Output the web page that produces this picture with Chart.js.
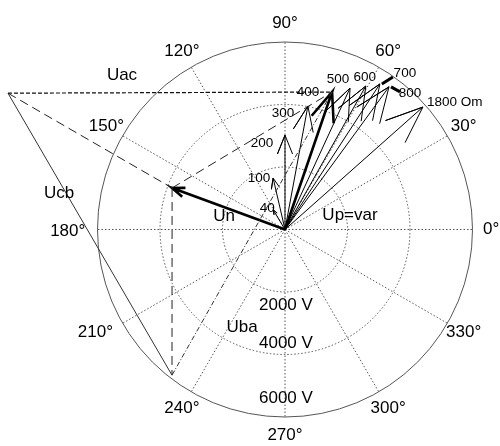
<!DOCTYPE html>
<html lang="en">
<head>
    <meta charset="UTF-8">
    <title>Up=var phasor diagram</title>
    <script src="https://cdn.jsdelivr.net/npm/chart.js"></script>
    <style>
        body { margin: 0; background: #fff; }
        canvas { display: block; }
    </style>
</head>
<body>
    <canvas id="phasor" width="500" height="446"></canvas>

    <script>
        // Up arrows (compass style), one per load resistance
        const resistances = ['40', '100', '200', '300', '400', '500', '600', '700', '800', '1800 Om'];
        const upMagnitude = [730, 1690, 3020, 4020, 4650, 4980, 5270, 5560, 5650, 5900];
        const upAngle = [121, 103, 90, 79.5, 71.1, 65.3, 60.6, 56.9, 53.9, 41.6];

        // line voltage triangle: A, B, C (B is the 400 Om tip)
        const triangleMagnitude = [9880, 4650, 5900];
        const triangleAngle = [153.8, 71.1, 232.2];

        // neutral shift Un
        const unMagnitude = 3850;
        const unAngle = 159.8;

        // radial rings and angular ticks
        const ringValues = [2000, 4000, 6000];
        const ringLabels = ['2000 V', '4000 V', '6000 V'];
        const angleTicks = [0, 30, 60, 90, 120, 150, 180, 210, 240, 270, 300, 330];
        const rMax = 6000;

        function toXY(mag, deg) {
            const a = deg * Math.PI / 180;
            return { x: mag * Math.cos(a), y: mag * Math.sin(a) };
        }

        // same shape as matlab compass: 0, z, .8z+.08iz, z, .8z-.08iz
        function compassPoints(mag, deg) {
            const t = toXY(mag, deg);
            return [
                { x: 0, y: 0 },
                t,
                { x: 0.8 * t.x - 0.08 * t.y, y: 0.8 * t.y + 0.08 * t.x },
                t,
                { x: 0.8 * t.x + 0.08 * t.y, y: 0.8 * t.y - 0.08 * t.x }
            ];
        }

        function smallArrow(mag, deg, head, half) {
            const t = toXY(mag, deg);
            const ux = t.x / mag, uy = t.y / mag;
            const bx = t.x - ux * head, by = t.y - uy * head;
            return [
                { x: 0, y: 0 },
                t,
                { x: bx - uy * half, y: by + ux * half },
                t,
                { x: bx + uy * half, y: by - ux * half }
            ];
        }

        const A = toXY(triangleMagnitude[0], triangleAngle[0]);
        const B = toXY(triangleMagnitude[1], triangleAngle[1]);
        const C = toXY(triangleMagnitude[2], triangleAngle[2]);
        const N = toXY(unMagnitude, unAngle);

        const datasets = [];

        // triangle and phase lines
        datasets.push({ data: [A, B], borderColor: '#111', borderWidth: 1.2, borderDash: [4, 2] });      // Uac
        datasets.push({ data: [A, C], borderColor: '#333', borderWidth: 1 });                            // Ucb
        datasets.push({ data: [B, C], borderColor: '#333', borderWidth: 1, borderDash: [5, 2, 1, 2] });  // Uba
        datasets.push({ data: [A, N], borderColor: '#222', borderWidth: 1, borderDash: [9, 5] });
        datasets.push({ data: [N, B], borderColor: '#222', borderWidth: 1, borderDash: [9, 5] });
        datasets.push({ data: [N, C], borderColor: '#222', borderWidth: 1, borderDash: [9, 5] });

        // Up arrows
        upMagnitude.forEach((m, i) => {
            datasets.push({
                data: compassPoints(m, upAngle[i]),
                borderColor: '#000',
                borderWidth: resistances[i] === '400' ? 2.6 : 1
            });
        });

        // Un arrow
        datasets.push({ data: smallArrow(unMagnitude, unAngle, 400, 150), borderColor: '#000', borderWidth: 2.6 });

        datasets.forEach(ds => {
            ds.showLine = true;
            ds.pointRadius = 0;
            ds.tension = 0;
            ds.clip = false;
            ds.borderJoinStyle = 'miter';
        });

        const polarGrid = {
            id: 'polarGrid',
            beforeDatasetsDraw(chart) {
                const { ctx, scales: { x, y } } = chart;
                const cx = x.getPixelForValue(0), cy = y.getPixelForValue(0);
                const pr = v => x.getPixelForValue(v) - cx;
                ctx.save();
                ctx.strokeStyle = '#555';
                ctx.lineWidth = 1;
                // spokes
                ctx.setLineDash([1.5, 2]);
                angleTicks.forEach(a => {
                    const p = toXY(rMax, a);
                    ctx.beginPath();
                    ctx.moveTo(cx, cy);
                    ctx.lineTo(x.getPixelForValue(p.x), y.getPixelForValue(p.y));
                    ctx.stroke();
                });
                // inner rings dotted, outer ring solid
                ringValues.forEach(r => {
                    ctx.setLineDash(r === rMax ? [] : [1.5, 2]);
                    ctx.beginPath();
                    ctx.arc(cx, cy, pr(r), 0, Math.PI * 2);
                    ctx.stroke();
                });
                ctx.restore();
            },
            afterDatasetsDraw(chart) {
                const { ctx, scales: { x, y } } = chart;
                const px = p => ({ x: x.getPixelForValue(p.x), y: y.getPixelForValue(p.y) });
                ctx.save();
                ctx.fillStyle = '#000';
                ctx.textBaseline = 'middle';

                // angle labels (180 and 210 sit a bit further out in the original)
                ctx.font = '17px "Liberation Sans", Arial, sans-serif';
                ctx.textAlign = 'center';
                angleTicks.forEach(a => {
                    const p = px(toXY(rMax * 1.1, a));
                    const dx = (a === 180 || a === 210) ? -11 : 0;
                    const dy = a === 180 ? 2 : 0;
                    ctx.fillText(a + '°', p.x + dx, p.y + dy);
                });

                // ring labels
                ctx.textAlign = 'left';
                const ringLabelY = [305, 343, 398];
                ringLabels.forEach((t, i) => ctx.fillText(t, 259, ringLabelY[i]));

                // phasor names
                ctx.textAlign = 'center';
                ctx.fillText('Uac', 122, 75);
                ctx.fillText('Ucb', 59, 193);
                ctx.fillText('Uba', 242, 327);
                ctx.fillText('Un', 224, 216);
                ctx.fillText('Up=var', 350, 215);

                // resistance labels, offset from each arrow tip
                const labelOffset = [[-6, -2], [-14, 0], [-23, 8], [-25, 7], [-24, 0], [-12, -9], [-1, -9], [25, -11], [21, 6], [4, -5]];
                ctx.font = '13.5px "Liberation Sans", Arial, sans-serif';
                resistances.forEach((t, i) => {
                    const p = px(toXY(upMagnitude[i], upAngle[i]));
                    const o = labelOffset[i];
                    ctx.textAlign = i === resistances.length - 1 ? 'left' : 'center';
                    ctx.fillText(t, p.x + o[0], p.y + o[1]);
                });

                // short leaders for 700 and 800
                ctx.lineWidth = 3;
                ctx.strokeStyle = '#000';
                [[7, [2, 0], [13, -7]], [8, [2, 0], [11, 5]]].forEach(([i, s, e]) => {
                    const p = px(toXY(upMagnitude[i], upAngle[i]));
                    ctx.beginPath();
                    ctx.moveTo(p.x + s[0], p.y + s[1]);
                    ctx.lineTo(p.x + e[0], p.y + e[1]);
                    ctx.stroke();
                });
                ctx.restore();
            }
        };

        // 32 V per pixel, origin at (285, 229.5)
        const vPerPx = 32;
        new Chart(document.getElementById('phasor'), {
            type: 'scatter',
            data: { datasets },
            options: {
                responsive: false,
                animation: false,
                layout: { padding: 0 },
                plugins: { legend: { display: false }, tooltip: { enabled: false } },
                scales: {
                    x: { type: 'linear', display: false, min: -285 * vPerPx, max: 215 * vPerPx },
                    y: { type: 'linear', display: false, min: -216.5 * vPerPx, max: 229.5 * vPerPx }
                }
            },
            plugins: [polarGrid]
        });
    </script>
</body>
</html>
